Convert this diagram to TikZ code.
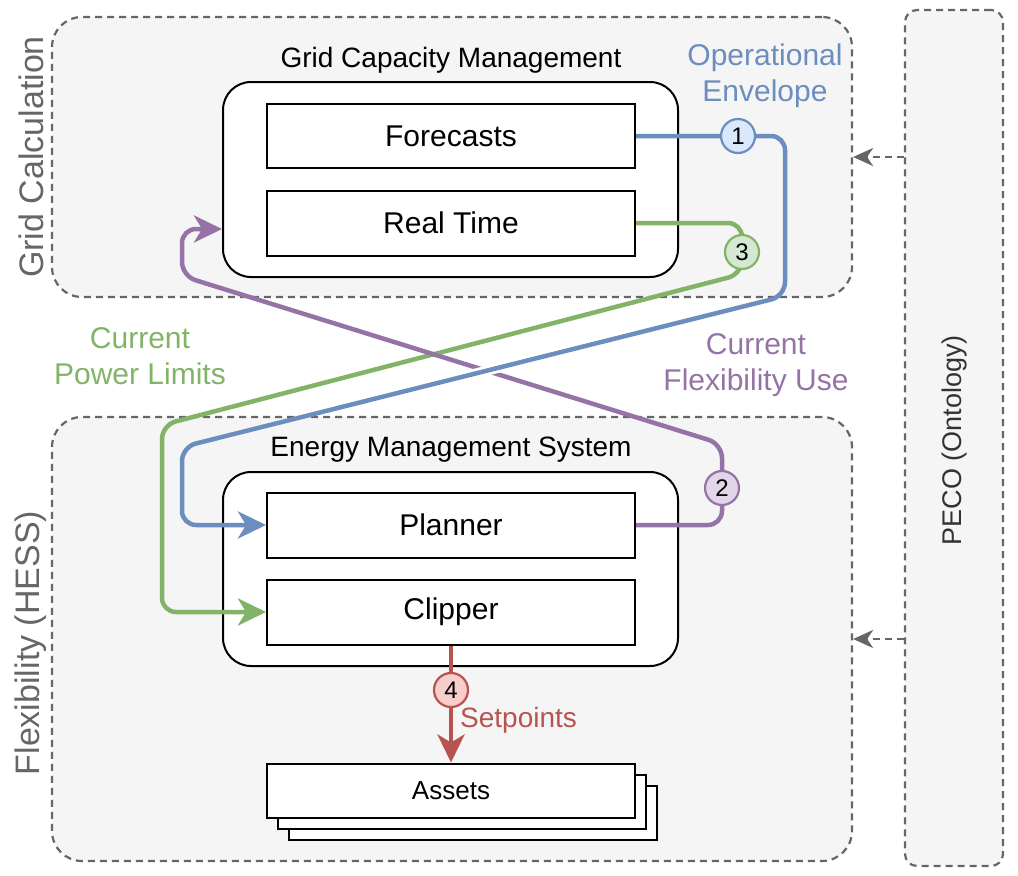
\documentclass[tikz,border=0pt]{standalone}
\usepackage{fontspec}
\setmainfont{Liberation Sans}
\usepackage{xcolor}
\usetikzlibrary{positioning,arrows.meta,calc,intersections}

\definecolor{blueline}{HTML}{6C8EBF}
\definecolor{bluefill}{HTML}{DAE8FC}
\definecolor{greenline}{HTML}{82B366}
\definecolor{greenfill}{HTML}{D5E8D4}
\definecolor{purpleline}{HTML}{9673A6}
\definecolor{purplefill}{HTML}{E1D5E7}
\definecolor{redline}{HTML}{B85450}
\definecolor{redfill}{HTML}{F8CECC}
\definecolor{groupfill}{HTML}{F5F5F5}
\definecolor{groupline}{HTML}{666666}
\definecolor{darktext}{HTML}{333333}

\begin{document}
\begin{tikzpicture}[x=1pt,y=-1pt]
\tikzstyle{every node}=[inner sep=0pt];
\tikzstyle{group}=[draw=groupline,fill=groupfill,line width=2.2pt,dash pattern=on 7pt off 5pt,rounded corners=30pt];
\tikzstyle{grouplabel}=[rotate=90,text=groupline,font=\fontsize{34}{40}\selectfont];
\tikzstyle{container}=[draw,fill=white,line width=2pt,rounded corners=28pt,minimum width=455pt];
\tikzstyle{title}=[font=\fontsize{28}{34}\selectfont];
\tikzstyle{block}=[draw,fill=white,line width=2pt,minimum width=368pt,minimum height=65pt,font=\fontsize{30}{36}\selectfont];
\tikzstyle{badge}=[circle,line width=2.2pt,minimum size=34pt,font=\fontsize{24}{28}\selectfont];
\tikzstyle{flow}=[line width=4.5pt,rounded corners=14pt,-{Stealth[length=28pt,width=27pt,inset=8pt]}];
\tikzstyle{flowlabel}=[align=center,font=\fontsize{30}{36}\selectfont];
\tikzstyle{ref}=[draw=groupline,line width=2.2pt,dash pattern=on 7pt off 5pt,-{Stealth[length=20pt,width=18pt,inset=6pt]}];

\useasboundingbox (0,0) rectangle (1018,876);

% groups
\node[group,minimum width=800pt,minimum height=280pt] (gridcalc) at (452,157) {};
\node[group,minimum width=800pt,minimum height=444pt] (flex) at (452,639) {};
\node[group,rounded corners=12pt,minimum width=98pt,minimum height=856pt] (peco) at (954,438) {};
\node[grouplabel] at (31,157) {Grid Calculation};
\node[grouplabel] at (31,643) {Flexibility (HESS)};
\node[rotate=90,text=darktext,font=\fontsize{27}{32}\selectfont] at (955,440) {PECO (Ontology)};

% grid capacity management
\node[container,minimum height=195pt] (gcm) at (450.5,179.5) {};
\node[title] at (451,60) {Grid Capacity Management};
\node[block,minimum height=64pt] (forecasts) at (451,136) {Forecasts};
\node[block] (realtime) at (451,223) {Real Time};

% energy management system
\node[container,minimum height=194pt] (ems) at (450.5,569) {};
\node[title] at (451,450) {Energy Management System};
\node[block] (planner) at (451,525) {Planner};
\node[block] (clipper) at (451,612) {Clipper};

% assets
\node[block,minimum height=54pt] (assets3) at (473,812.5) {};
\node[block,minimum height=54pt] (assets2) at (462,801.5) {};
\node[block,minimum height=54pt,font=\fontsize{26}{31}\selectfont] (assets) at (451,790.5) {Assets};

% bends
\coordinate (b1) at (785,296);
\coordinate (b2) at (182,447);
\coordinate (p1) at (722,444);
\coordinate (p2) at (182,276);
\path[name path=bluediag] (b1) -- (b2);
\path[name path=purplediag] (p1) -- (p2);
\path[name intersections={of=bluediag and purplediag,by=cross}];

\draw[flow,greenline] (realtime.east) -- (742,223) -- (742,274) -- (162,425) -- (162,612) -- (clipper.west);
\draw[flow,purpleline] (planner.east) -- (722,525) -- (p1) -- (p2) -- (182,229) -- ($(gcm.west)+(0,49.5)$);
\draw[white,line width=10pt] ($(cross)!14pt!(b1)$) -- ($(cross)!14pt!(b2)$);
\draw[flow,blueline] (forecasts.east) -- (785,136) -- (b1) -- (b2) -- (182,525) -- (planner.west);
\draw[flow,redline] (clipper.south) -- (assets.north);

\draw node[badge,draw=blueline,fill=bluefill] (n1) at (738,136) {1};
\draw node[badge,draw=purpleline,fill=purplefill] (n2) at (722,488) {2};
\draw node[badge,draw=greenline,fill=greenfill] (n3) at (742,252) {3};
\draw node[badge,draw=redline,fill=redfill] (n4) at (451,690) {4};

% labels
\node[flowlabel,text=blueline] at (765,75.5) {Operational\\Envelope};
\node[flowlabel,text=greenline] at (140,356) {Current\\Power Limits};
\node[flowlabel,text=purpleline] at (756,365) {Current\\Flexibility Use};
\node[flowlabel,text=redline,anchor=west,font=\fontsize{28}{34}\selectfont] at (460,720) {Setpoints};

% ontology links
\draw[ref] (peco.west |- gridcalc.east) -- (gridcalc.east);
\draw[ref] (peco.west |- flex.east) -- (flex.east);
\end{tikzpicture}
\end{document}
